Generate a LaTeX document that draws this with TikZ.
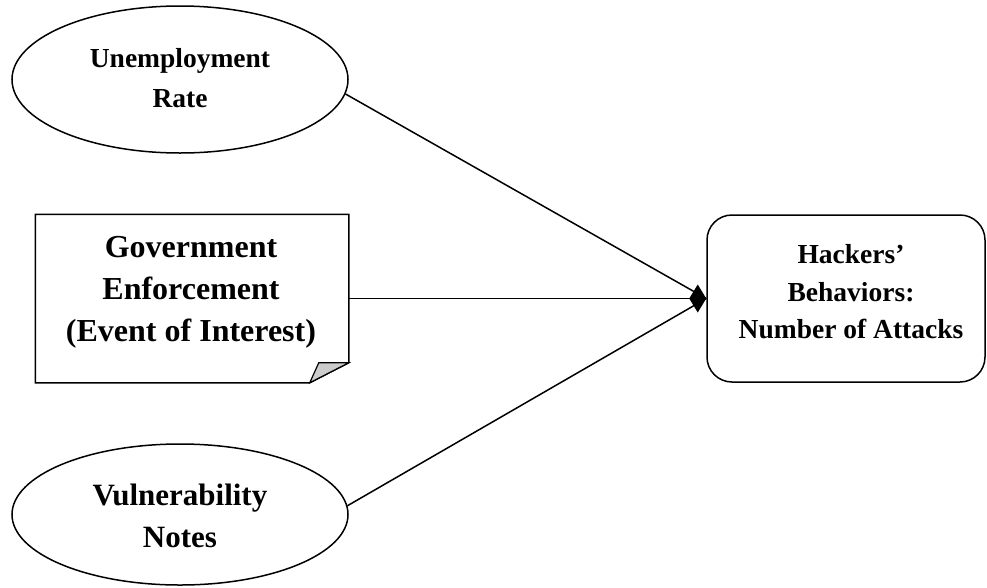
\documentclass[tikz,border=0pt]{standalone}
\usepackage{fontspec}
\setmainfont{Liberation Serif}
\usetikzlibrary{shapes.geometric,arrows.meta}
\begin{document}
\begin{tikzpicture}[x=1pt,y=-1pt,line width=1.5pt,
  oval/.style={ellipse,draw,inner sep=0pt},
  lbl/.style={align=center,inner sep=0pt},
  bigtxt/.style={font=\fontsize{32}{42}\selectfont\bfseries},
  vtxt/.style={font=\fontsize{31}{42}\selectfont\bfseries},
  smalltxt/.style={font=\fontsize{27.5}{40}\selectfont\bfseries}]
\useasboundingbox (0,0) rectangle (987,587);
% shapes
\node[oval,minimum width=336pt,minimum height=147pt] (unemp) at (180,79.5) {};
\node[oval,minimum width=336pt,minimum height=141pt] (vuln) at (180,514.5) {};
\node[rectangle,inner sep=0pt,minimum width=312pt,minimum height=167pt] (gov) at (192,298.5) {};
\draw (gov.north west) -- (gov.north east) -- ([yshift=20pt]gov.south east)
  -- ([xshift=-39pt]gov.south east) -- (gov.south west) -- cycle;
\draw[fill=gray!40,line width=1.2pt] ([yshift=20pt]gov.south east) -- ([xshift=-30pt,yshift=20pt]gov.south east)
  -- ([xshift=-39pt]gov.south east) -- cycle;
\node[rectangle,draw,rounded corners=25pt,inner sep=0pt,minimum width=278pt,minimum height=167pt] (hb) at (846,298.5) {};
% texts
\node[lbl,smalltxt] (unempt) at (180,78.5) {Unemployment\\Rate};
\node[lbl,bigtxt] (govt) at (191,292) {Government\\Enforcement\\(Event of Interest)};
\node[lbl,vtxt] (vulnt) at (180,515.5) {Vulnerability\\Notes};
\node[lbl,font=\fontsize{27.5}{37.5}\selectfont\bfseries] (hbt) at (851,292) {Hackers’\\Behaviors:\\Number of Attacks};
% connectors
\draw (unemp.-5) -- (hb.west);
\draw (vuln.3) -- (hb.west);
\draw[-{Diamond[length=17pt,width=28pt]}] (gov.east) -- (hb.west);
\end{tikzpicture}
\end{document}
